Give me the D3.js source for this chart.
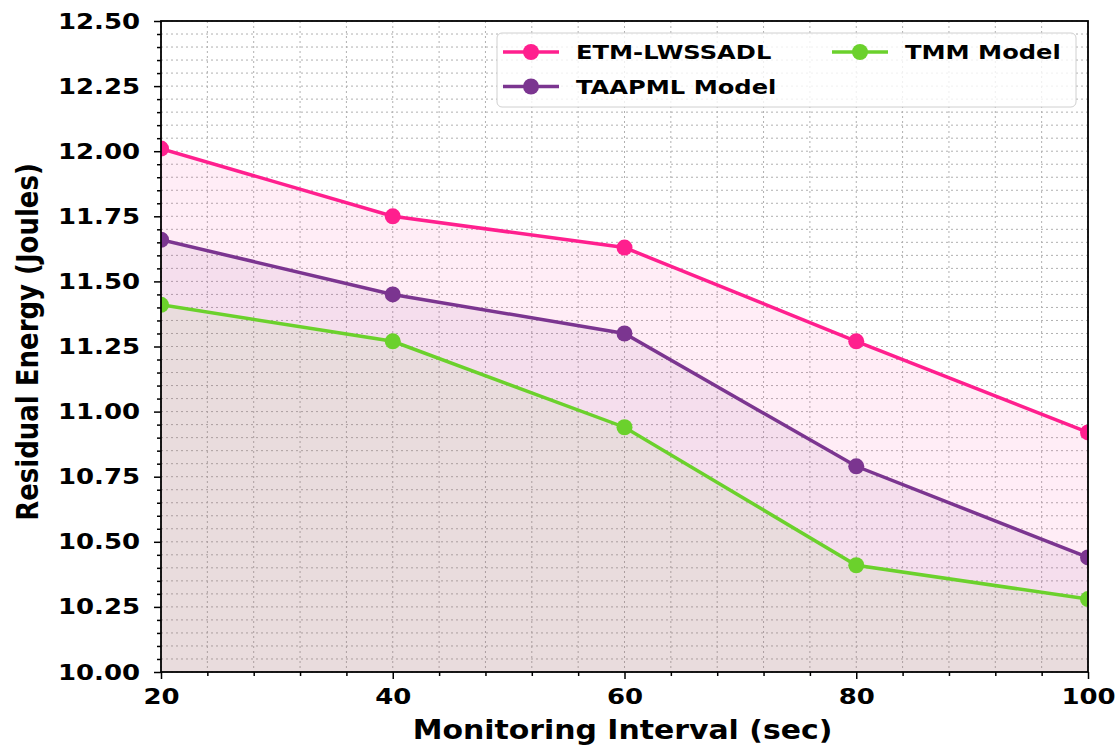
<!DOCTYPE html>
<html><head><meta charset="utf-8">
<script src="https://cdn.jsdelivr.net/npm/d3@7"></script>
<style>body{margin:0;background:#fff}svg{display:block}text{font-family:"DejaVu Sans",sans-serif;font-weight:bold}</style>
</head><body>
<script>
const categories = [20, 40, 60, 80, 100];
const etm = [12.01, 11.75, 11.63, 11.27, 10.92];
const taapml = [11.66, 11.45, 11.30, 10.79, 10.44];
const tmm = [11.41, 11.27, 10.94, 10.41, 10.28];
const seriesNames = ["ETM-LWSSADL", "TAAPML Model", "TMM Model"];
const seriesColors = ["#ff1f8e", "#7b3590", "#6bd12c"];
const yTicks = [10.00, 10.25, 10.50, 10.75, 11.00, 11.25, 11.50, 11.75, 12.00, 12.25, 12.50];
const xTicks = [20, 40, 60, 80, 100];

const W = 1118, H = 749;
const SX = 1.18; // horizontal text stretch
const m = {l:161, r:1088, t:21, b:672};
const svg = d3.select("body").append("svg").attr("width", W).attr("height", H);
const x = d3.scaleLinear().domain([20,100]).range([m.l, m.r]);
const y = d3.scaleLinear().domain([10,12.5]).range([m.b, m.t]);

svg.append("defs").append("clipPath").attr("id","clip")
  .append("rect").attr("x",m.l).attr("y",m.t).attr("width",m.r-m.l).attr("height",m.b-m.t);

// grid
const g = svg.append("g");
const xMinor = d3.range(20, 100.001, 4);
const yMinor = d3.range(0, 51).map(i => 10 + i*0.05);
g.selectAll(".gx").data(xMinor).enter().append("line")
  .attr("x1", d=>x(d)).attr("x2", d=>x(d)).attr("y1", m.t).attr("y2", m.b)
  .attr("stroke","#b0b0b0").attr("stroke-width",1).attr("stroke-dasharray","2,3");
g.selectAll(".gy").data(yMinor).enter().append("line")
  .attr("y1", d=>y(d)).attr("y2", d=>y(d)).attr("x1", m.l).attr("x2", m.r)
  .attr("stroke","#b0b0b0").attr("stroke-width",1).attr("stroke-dasharray","2,3");

const allSeries = [etm, taapml, tmm];
const plot = svg.append("g").attr("clip-path","url(#clip)");
allSeries.forEach((s,i) => {
  const data = s.map((v,j)=>({x:categories[j], y:v}));
  plot.append("path").datum(data)
    .attr("d", d3.area().x(d=>x(d.x)).y0(y(10)).y1(d=>y(d.y)))
    .attr("fill", seriesColors[i]).attr("fill-opacity", 0.08);
});
allSeries.forEach((s,i) => {
  const data = s.map((v,j)=>({x:categories[j], y:v}));
  plot.append("path").datum(data)
    .attr("d", d3.line().x(d=>x(d.x)).y(d=>y(d.y)))
    .attr("fill","none").attr("stroke", seriesColors[i]).attr("stroke-width",3.5);
  plot.selectAll(null).data(data).enter().append("circle")
    .attr("cx", d=>x(d.x)).attr("cy", d=>y(d.y)).attr("r",8)
    .attr("fill", seriesColors[i]);
});

// axes
const xAxis = svg.append("g").attr("transform",`translate(0,${m.b})`)
  .call(d3.axisBottom(x).tickValues(xTicks).tickFormat(d3.format("d")).tickSizeOuter(0).tickSize(7).tickPadding(9));
const xAxisMinor = svg.append("g").attr("transform",`translate(0,${m.b})`)
  .call(d3.axisBottom(x).tickValues(xMinor.filter(v=>v%20!==0)).tickFormat("").tickSizeOuter(0).tickSize(4));
const yAxis = svg.append("g").attr("transform",`translate(${m.l},0)`)
  .call(d3.axisLeft(y).tickValues(yTicks).tickFormat(d3.format(".2f")).tickSizeOuter(0).tickSize(7).tickPadding(14));
const yAxisMinor = svg.append("g").attr("transform",`translate(${m.l},0)`)
  .call(d3.axisLeft(y).tickValues(yMinor.filter((v,i)=>i%5!==0)).tickFormat("").tickSizeOuter(0).tickSize(4));
[xAxis,xAxisMinor,yAxis,yAxisMinor].forEach(a=>{
  a.select(".domain").remove();
  a.selectAll("line").attr("stroke","#000").attr("stroke-width",1.5);
  a.selectAll("text").attr("font-size",22).attr("font-weight","bold").attr("fill","#000")
    .attr("font-family","'DejaVu Sans',sans-serif")
    .each(function(){
      const t = d3.select(this);
      const xv = +(t.attr("x") || 0);
      t.attr("x", xv / SX).attr("transform", `scale(${SX},1)`);
    });
});

svg.append("rect").attr("x",m.l).attr("y",m.t).attr("width",m.r-m.l).attr("height",m.b-m.t)
  .attr("fill","none").attr("stroke","#000").attr("stroke-width",1.8);

svg.append("text").attr("transform",`translate(${(m.l+m.r)/2 - 2},739) scale(1.15,1)`).attr("text-anchor","middle")
  .attr("font-size",26).text("Monitoring Interval (sec)");
svg.append("text").attr("transform",`translate(28,342) scale(${SX},1) rotate(-90)`).attr("text-anchor","middle")
  .attr("dominant-baseline","central")
  .attr("font-size",26).text("Residual Energy (Joules)");

// legend
const lg = svg.append("g");
lg.append("rect").attr("x",497).attr("y",33).attr("width",579).attr("height",74).attr("rx",5)
  .attr("fill","#fff").attr("fill-opacity",0.8).attr("stroke","#d0d0d0").attr("stroke-width",1);
const pos = [{x:503,y:52},{x:503,y:86.5},{x:832,y:52}];
seriesNames.forEach((n,i)=>{
  const p = pos[i];
  lg.append("line").attr("x1",p.x).attr("x2",p.x+56).attr("y1",p.y).attr("y2",p.y)
    .attr("stroke",seriesColors[i]).attr("stroke-width",3.5);
  lg.append("circle").attr("cx",p.x+28).attr("cy",p.y).attr("r",8).attr("fill",seriesColors[i]);
  lg.append("text").attr("transform",`translate(${p.x+73},${p.y+7}) scale(1.21,1)`)
    .attr("font-size",20).text(n);
});
</script>
</body></html>
